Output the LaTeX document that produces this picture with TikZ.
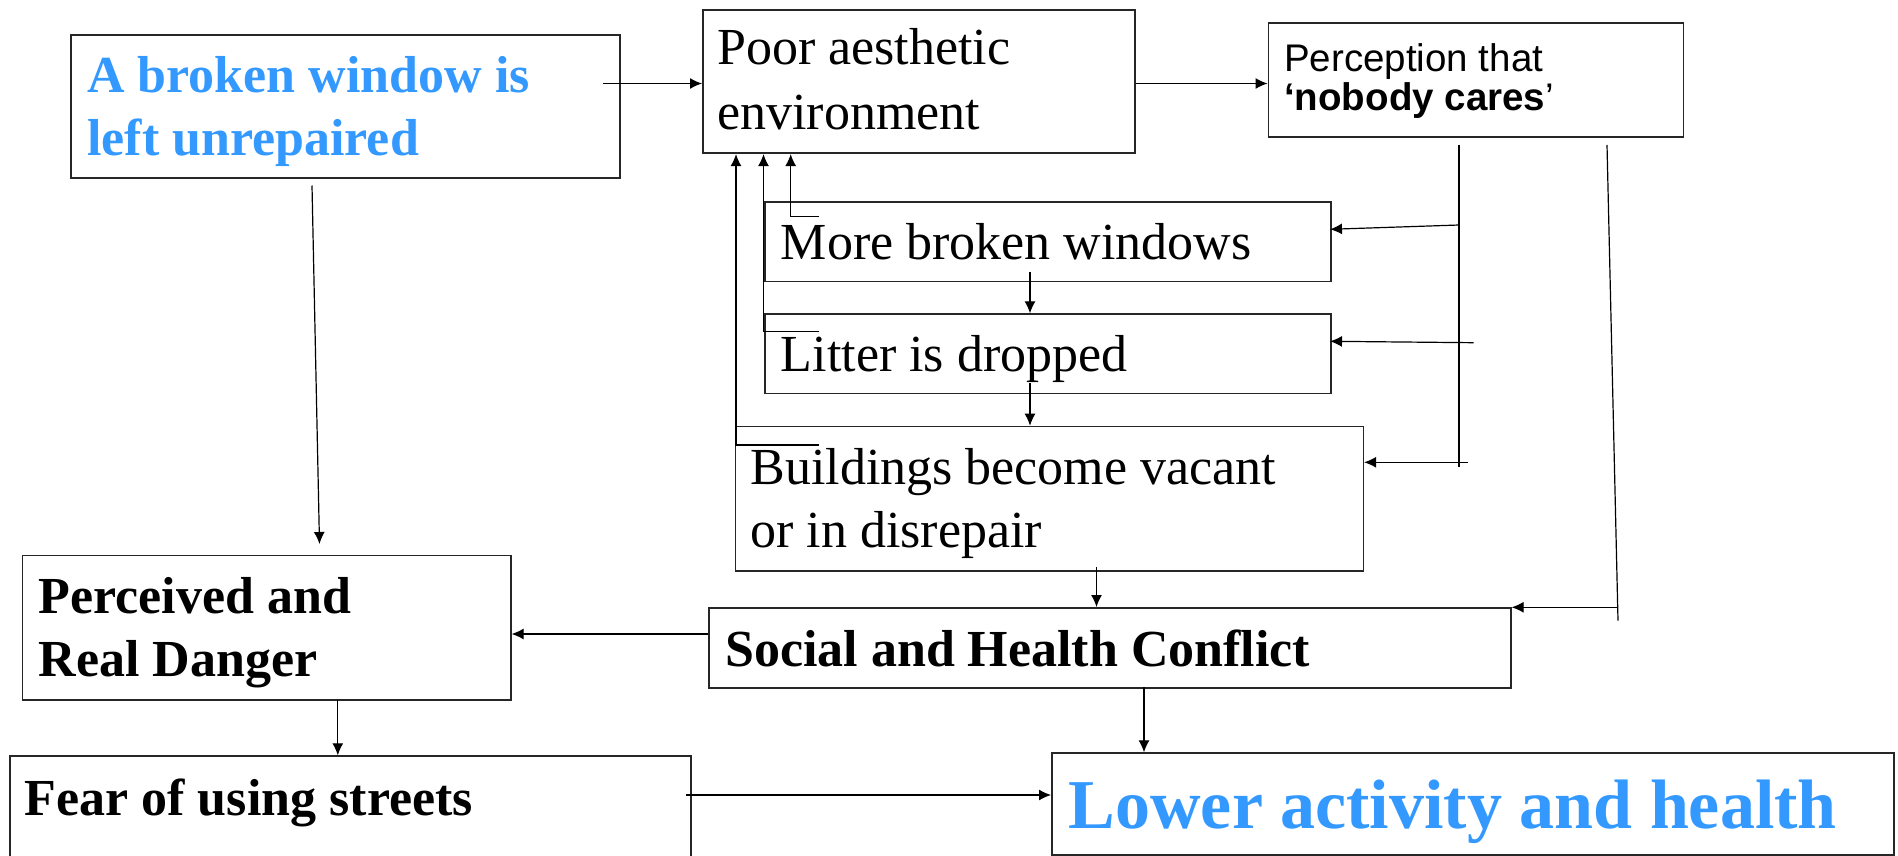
\documentclass[tikz,border=0pt]{standalone}
\usepackage{fontspec}
\setmainfont{Liberation Serif}
\newfontfamily\arialfont{Liberation Sans}
\usetikzlibrary{arrows.meta}
\definecolor{winblue}{RGB}{51,153,255}
\newcommand\twolines[2]{\vtop{\hbox{#1}\hbox{#2}}}
\begin{document}
\begin{tikzpicture}[x=1pt,y=-1pt,
  box/.style={draw=black!85, line width=1.6pt, rectangle, inner sep=0pt, anchor=north west},
  lbl/.style={anchor=base west, inner sep=0pt, font=\fontsize{52}{63.3}\selectfont},
  blbl/.style={anchor=base west, inner sep=0pt, font=\fontsize{52}{63.3}\selectfont\bfseries},
  conn/.style={line width=1.2pt},
  arr/.style={conn, -{Latex[length=12pt,width=11pt]}}]
\useasboundingbox[fill=white] (0,0) rectangle (1898,856);

% boxes
\node[box, minimum width=549pt, minimum height=143pt] (A) at (70,34) {};
\node[box, minimum width=432pt, minimum height=143pt] (B) at (702,9.5) {};
\node[box, minimum width=415pt, minimum height=114pt] (C) at (1267.5,22) {};
\node[box, minimum width=566pt, minimum height=79.5pt] (D) at (764,201) {};
\node[box, minimum width=566pt, minimum height=79.5pt] (E) at (764,313.3) {};
\node[box, minimum width=628pt, minimum height=144.3pt] (F) at (734.5,425.7) {};
\node[box, minimum width=488.5pt, minimum height=144.5pt] (G) at (21.5,554.5) {};
\node[box, minimum width=802pt, minimum height=80pt] (H) at (708,607) {};
\node[box, minimum width=681pt, minimum height=104pt] (I) at (9,755.3) {};
\node[box, minimum width=842pt, minimum height=101.7pt] (J) at (1051,752.3) {};

% texts
\node[blbl, text=winblue] (At) at (87,92.7) {\twolines{A broken window is}{left unrepaired}};
\node[lbl, font=\fontsize{52}{65}\selectfont] (Bt) at (717,65) {\twolines{Poor aesthetic}{environment}};
\node[anchor=base west, inner sep=0pt, font=\arialfont\fontsize{38.5}{39}\selectfont] (Ct) at (1284,71.7) {\twolines{Perception that}{\textbf{‘nobody cares}’}};
\node[lbl] (Dt) at (780.7,259) {More broken windows};
\node[lbl] (Et) at (780.7,371.7) {Litter is dropped};
\node[lbl] (Ft) at (750.3,484.3) {\twolines{Buildings become vacant}{or in disrepair}};
\node[blbl] (Gt) at (38.3,613.3) {\twolines{Perceived and}{Real Danger}};
\node[blbl] (Ht) at (725,666) {Social and Health Conflict};
\node[blbl] (It) at (24.5,815) {Fear of using streets};
\node[anchor=base west, inner sep=0pt, font=\fontsize{70}{80}\selectfont\bfseries, text=winblue] (Jt) at (1068.5,828.3) {Lower activity and health};

% free ends of connectors
\coordinate (a1) at (603,83.5);
\coordinate (a2) at (312,185.5);
\coordinate (g0) at (319.5,544);
\coordinate (f1) at (819,445);
\coordinate (u1) at (736,445);
\coordinate (e1) at (819,331.7);
\coordinate (u2) at (763.5,331.7);
\coordinate (d1) at (819,216.7);
\coordinate (u3) at (790.7,216.7);
\coordinate (de) at (1030,271.7);
\coordinate (ef) at (1030,383.3);
\coordinate (c1) at (1459,145);
\coordinate (c2) at (1459,466.7);
\coordinate (cd) at (1459,225);
\coordinate (dIn) at (1330,229.3);
\coordinate (ce) at (1473.6,342.7);
\coordinate (eIn) at (1330,341.3);
\coordinate (cf) at (1467.8,462.3);
\coordinate (r1) at (1607,145);
\coordinate (r2) at (1618,620.7);
\coordinate (rh) at (1618,607.3);
\coordinate (fh) at (1096.5,567.3);
\coordinate (hg) at (708,634);
\coordinate (hj) at (1144,687.3);
\coordinate (gi) at (337.8,700);
\coordinate (ij) at (686,795);

% connectors
\draw[arr] (a1) -- (a1 -| B.west);
\draw[arr] (B.east |- a1) -- (C.west |- a1);
\draw[arr] (a2) -- (g0);
\draw[arr] (f1) -- (u1) -- (u1 |- B.south);
\draw[arr] (e1) -- (u2) -- (u2 |- B.south);
\draw[arr] (d1) -- (u3) -- (u3 |- B.south);
\draw[arr] (de) -- (de |- E.north);
\draw[arr] (ef) -- (ef |- F.north);
\draw[conn] (c1) -- (c2);
\draw[arr] (cd) -- (dIn);
\draw[arr] (ce) -- (eIn);
\draw[arr] (cf) -- (cf -| F.east);
\draw[conn] (r1) -- (r2);
\draw[arr] (rh) -- (rh -| H.east);
\draw[arr] (fh) -- (fh |- H.north);
\draw[arr] (hg) -- (hg -| G.east);
\draw[arr] (hj) -- (hj |- J.north);
\draw[arr] (gi) -- (gi |- I.north);
\draw[arr] (ij) -- (ij -| J.west);
\end{tikzpicture}
\end{document}
